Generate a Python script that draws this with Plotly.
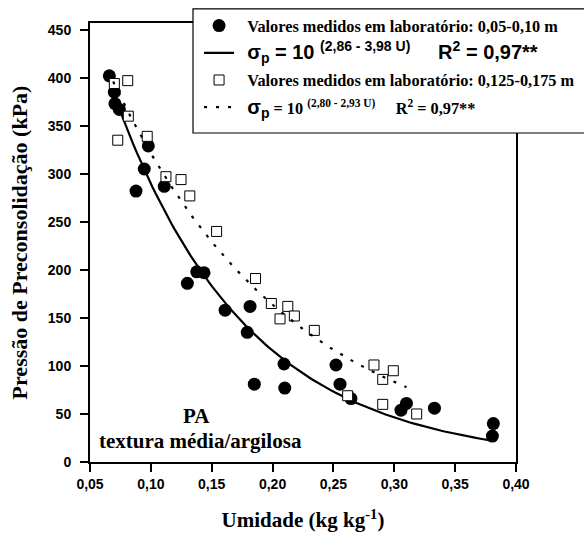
import numpy as np
import plotly.graph_objects as go

# Pressão de preconsolidação vs. umidade — camada 0,05-0,10 m
umid_sup = [0.0659, 0.0700, 0.0705, 0.0741, 0.0979, 0.0946, 0.1110, 0.0878,
            0.1377, 0.1437, 0.1300, 0.1610, 0.1815, 0.1792, 0.2094, 0.1850,
            0.2100, 0.2521, 0.2554, 0.2644, 0.3100, 0.3055, 0.3330, 0.3814,
            0.3806]
pres_sup = [402, 385, 373, 367, 329, 305, 287, 282,
            198, 197, 186, 158, 162, 135, 102, 81,
            77, 101, 81, 66, 61, 54, 56, 40,
            27]

# Camada 0,125-0,175 m
umid_inf = [0.0700, 0.0810, 0.0815, 0.0728, 0.0970, 0.1124, 0.1248, 0.1320,
            0.1540, 0.1860, 0.1990, 0.2125, 0.2061, 0.2179, 0.2343, 0.2833,
            0.2992, 0.2905, 0.2617, 0.2905, 0.3184]
pres_inf = [394, 397, 360, 335, 339, 297, 294, 277,
            240, 191, 165, 162, 149, 152, 137, 101,
            95, 86, 69, 60, 50]

# Ajustes: sigma_p = 10^(a - b*U)
a_sup, b_sup = 2.86, 3.98
a_inf, b_inf = 2.80, 2.93
u_fit_sup = np.linspace(0.073, 0.380, 120)
u_fit_inf = np.linspace(0.069, 0.310, 120)

x_ticks = [0.05, 0.10, 0.15, 0.20, 0.25, 0.30, 0.35, 0.40]
y_ticks = [0, 50, 100, 150, 200, 250, 300, 350, 400, 450]

SERIF = "Liberation Serif"
SANS = "Liberation Sans"
PAD = "\u00a0\u00a0"

lbl1 = PAD + "<b>Valores medidos em laboratório: 0,05-0,10 m</b>"
lbl2 = (PAD + "<span style='font-family:Liberation Sans;font-size:20px'><b>"
        "σ<sub>p</sub> = 10 <sup>(2,86 - 3,98 U)</sup>\u00a0\u00a0\u00a0\u00a0\u00a0"
        "R<sup>2</sup> = 0,97**</b></span>")
lbl3 = PAD + "<b>Valores medidos em laboratório: 0,125-0,175 m</b>"
lbl4 = (PAD + "<b><span style='font-family:Liberation Sans;font-size:20px'>σ<sub>p</sub></span>"
        " = 10 <sup>(2,80 - 2,93 U)</sup>\u00a0\u00a0\u00a0\u00a0\u00a0R<sup>2</sup> = 0,97**</b>")

fig = go.Figure()
fig.add_trace(go.Scatter(
    x=umid_sup, y=pres_sup, mode="markers", name=lbl1, legendgroup="g1",
    marker=dict(symbol="circle", size=13, color="black", line=dict(width=0)),
))
fig.add_trace(go.Scatter(
    x=u_fit_sup, y=10 ** (a_sup - b_sup * u_fit_sup), mode="lines", name=lbl2,
    legendgroup="g2", line=dict(color="black", width=2.2),
))
fig.add_trace(go.Scatter(
    x=umid_inf, y=pres_inf, mode="markers", name=lbl3, legendgroup="g3",
    marker=dict(symbol="square", size=10, color="white",
                line=dict(color="black", width=1)),
))
fig.add_trace(go.Scatter(
    x=u_fit_inf, y=10 ** (a_inf - b_inf * u_fit_inf), mode="lines", name=lbl4,
    legendgroup="g4", line=dict(color="black", width=2.2, dash="3px,9px"),
))

axis_common = dict(
    showline=True, linecolor="black", linewidth=2, mirror=True,
    ticks="outside", ticklen=8, tickwidth=2, tickcolor="black",
    showgrid=False, zeroline=False,
    tickfont=dict(family=SANS, size=14, color="black", weight="bold"),
)

fig.update_xaxes(
    range=[0.05, 0.40], tickvals=x_ticks, tickformat=".2f",
    title=dict(text="<b>Umidade (kg kg<sup>-1</sup>)</b>",
               font=dict(family=SERIF, size=21, color="black"), standoff=22),
    **axis_common,
)
fig.update_yaxes(
    range=[0, 457], tickvals=y_ticks, ticklabelstandoff=6,
    title=dict(text="<b>Pressão de Preconsolidação (kPa)</b>",
               font=dict(family=SERIF, size=22, color="black"), standoff=14),
    **axis_common,
)

# Caixa da legenda
fig.add_shape(type="rect", xref="paper", yref="paper",
              x0=0.2418, x1=1.25, y0=0.7494, y1=1.032,
              line=dict(color="black", width=1.2), fillcolor="white", layer="above")

fig.add_annotation(text="<b>PA</b>", xref="x", yref="y", x=0.1375, y=48,
                   showarrow=False, font=dict(family=SERIF, size=21, color="black"))
fig.add_annotation(text="<b>textura média/argilosa</b>", xref="x", yref="y",
                   x=0.1405, y=22, showarrow=False,
                   font=dict(family=SERIF, size=21, color="black"))

fig.update_layout(
    width=584, height=536,
    margin=dict(l=90, r=68, t=23, b=74, autoexpand=False),
    paper_bgcolor="white", plot_bgcolor="white",
    separators=",.",
    showlegend=True,
    legend=dict(
        x=0.256, y=1.033, xanchor="left", yanchor="top",
        bgcolor="rgba(0,0,0,0)", borderwidth=0,
        font=dict(family=SERIF, size=16.3, color="black"),
        tracegroupgap=3, itemsizing="trace",
    ),
)

fig.write_html("out.html")
